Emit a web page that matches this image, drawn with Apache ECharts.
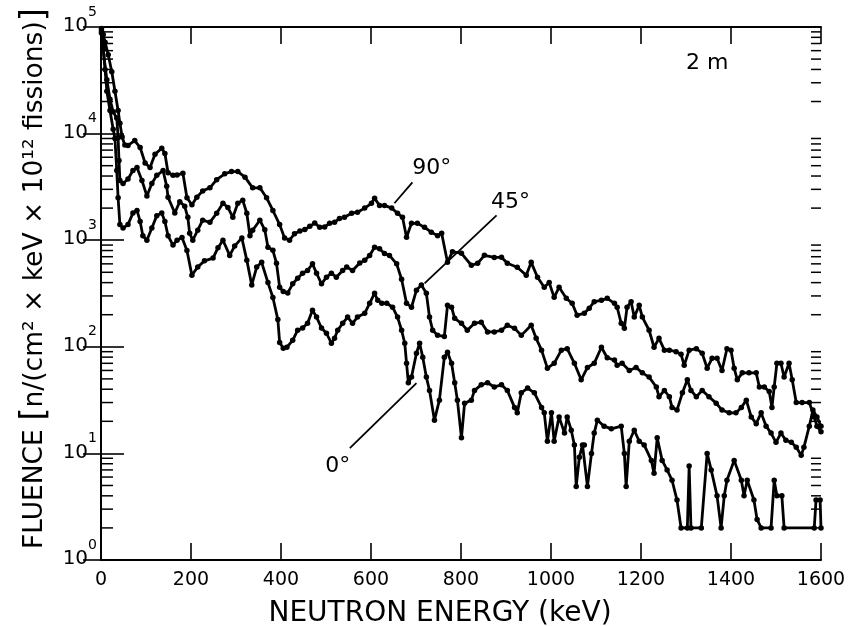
<!DOCTYPE html>
<html>
<head>
<meta charset="utf-8">
<script src="https://cdn.jsdelivr.net/npm/echarts@6.0.0/dist/echarts.min.js"></script>
<style>
html, body { margin: 0; padding: 0; background: #fff; }
#chart { width: 850px; height: 626px; }
</style>
</head>
<body>
<div id="chart"></div>
<script>
// neutron energy (keV) and fluence, one pair of arrays per angle
const e90 = [1, 5, 9, 16, 24, 31, 38, 42, 47, 53, 60, 75, 87, 98, 109, 120, 135, 142, 149, 160, 169, 182, 191, 202, 213, 226, 242, 257, 275, 290, 304, 320, 337, 353, 368, 382, 397, 408, 419, 430, 442, 453, 464, 475, 486, 497, 508, 519, 530, 541, 557, 570, 586, 601, 608, 619, 630, 646, 659, 670, 679, 690, 703, 719, 734, 748, 757, 770, 781, 801, 823, 837, 852, 874, 890, 903, 925, 945, 956, 970, 985, 996, 1007, 1018, 1034, 1047, 1058, 1074, 1085, 1096, 1112, 1125, 1141, 1147, 1156, 1163, 1169, 1178, 1185, 1196, 1203, 1218, 1229, 1240, 1252, 1263, 1278, 1289, 1296, 1307, 1323, 1336, 1347, 1358, 1369, 1380, 1391, 1400, 1407, 1414, 1425, 1440, 1456, 1463, 1474, 1485, 1491, 1496, 1502, 1511, 1518, 1529, 1536, 1545, 1558, 1574, 1585, 1591, 1600];
const f90 = [97000, 85000, 72000, 55000, 38000, 25000, 16500, 12500, 9300, 7800, 7750, 8600, 7400, 5300, 4800, 6400, 7300, 6500, 4300, 4060, 4100, 4240, 2500, 2150, 2530, 2900, 3100, 3700, 4200, 4400, 4400, 3900, 3100, 3100, 2500, 1900, 1400, 1050, 1000, 1150, 1220, 1260, 1350, 1450, 1320, 1330, 1440, 1470, 1600, 1640, 1790, 1830, 2000, 2220, 2470, 2120, 2120, 2000, 1790, 1640, 1065, 1440, 1440, 1320, 1190, 1100, 1160, 620, 780, 754, 582, 607, 722, 690, 691, 607, 557, 469, 620, 449, 362, 400, 291, 362, 285, 256, 198, 206, 230, 265, 273, 285, 256, 235, 166, 149, 235, 265, 190, 245, 190, 143, 99, 120, 93, 93, 90, 85, 67, 93, 96, 87, 63, 78, 78, 60, 96, 93, 63, 49, 57, 57, 57, 42, 42, 38, 27, 42, 70, 70, 52, 70, 49, 30, 30, 30, 22, 18, 16];

const e45 = [1, 4, 13, 20, 27, 35, 38, 40, 42, 49, 60, 71, 80, 91, 102, 113, 124, 138, 146, 149, 164, 175, 186, 193, 197, 204, 215, 226, 242, 257, 271, 282, 293, 304, 315, 324, 331, 337, 353, 364, 371, 382, 390, 397, 405, 415, 426, 437, 448, 459, 470, 479, 490, 501, 512, 523, 537, 546, 559, 575, 586, 597, 608, 619, 630, 641, 657, 668, 679, 690, 701, 712, 723, 730, 737, 748, 763, 770, 779, 786, 801, 814, 830, 845, 859, 874, 890, 903, 919, 934, 956, 967, 979, 992, 1007, 1023, 1036, 1052, 1067, 1081, 1096, 1112, 1125, 1141, 1147, 1158, 1174, 1189, 1203, 1218, 1234, 1240, 1252, 1263, 1269, 1280, 1292, 1303, 1311, 1323, 1336, 1351, 1367, 1380, 1396, 1411, 1423, 1434, 1445, 1456, 1467, 1478, 1489, 1500, 1511, 1522, 1534, 1545, 1556, 1562, 1574, 1582, 1591, 1600];
const f45 = [92000, 65000, 32000, 21000, 16000, 14000, 9200, 5600, 3640, 3400, 3750, 4500, 4800, 3640, 2600, 3400, 4060, 4500, 3200, 2530, 1800, 2300, 2080, 1640, 1160, 1000, 1240, 1540, 1470, 1790, 2220, 2030, 1640, 2220, 2370, 1790, 1100, 1240, 1540, 1250, 858, 804, 607, 362, 330, 320, 390, 440, 490, 520, 600, 490, 390, 450, 490, 450, 520, 560, 520, 610, 650, 720, 860, 830, 750, 720, 600, 430, 256, 235, 340, 380, 318, 190, 143, 128, 125, 245, 235, 185, 166, 143, 166, 170, 138, 138, 143, 159, 149, 128, 159, 120, 93, 63, 70, 93, 96, 70, 49, 64, 70, 99, 79, 75, 67, 70, 60, 64, 57, 52, 42, 34, 39, 34, 27, 25.5, 37, 49, 39, 34, 39, 34, 29.6, 25.5, 24, 24, 27, 31.6, 22, 19, 24, 18, 15.5, 12.7, 15.5, 13.3, 12.7, 11.4, 9.6, 11.4, 18, 25.5, 22, 18];

const e0 = [1, 5, 9, 13, 20, 27, 31, 35, 38, 42, 49, 60, 71, 80, 87, 93, 102, 113, 124, 135, 142, 149, 160, 169, 180, 191, 202, 215, 230, 249, 260, 271, 286, 297, 313, 324, 335, 346, 357, 371, 382, 393, 397, 405, 413, 426, 437, 448, 459, 470, 479, 490, 501, 512, 519, 526, 537, 548, 559, 570, 586, 597, 608, 615, 624, 635, 648, 659, 668, 675, 679, 683, 690, 701, 708, 715, 723, 730, 741, 752, 763, 770, 779, 786, 792, 801, 808, 823, 830, 845, 859, 874, 890, 903, 919, 925, 934, 948, 963, 979, 985, 992, 1001, 1007, 1018, 1030, 1036, 1045, 1052, 1056, 1063, 1070, 1074, 1081, 1090, 1096, 1103, 1118, 1134, 1156, 1163, 1167, 1174, 1185, 1196, 1207, 1223, 1229, 1236, 1247, 1258, 1269, 1280, 1289, 1303, 1307, 1311, 1334, 1347, 1356, 1369, 1378, 1385, 1391, 1407, 1423, 1429, 1436, 1451, 1458, 1467, 1489, 1496, 1502, 1513, 1518, 1585, 1589, 1598, 1600];
const f0 = [88000, 62000, 40000, 25000, 16500, 11000, 9000, 4500, 2500, 1400, 1300, 1400, 1800, 1900, 1500, 1100, 1000, 1300, 1700, 1800, 1500, 1100, 900, 1000, 1060, 800, 470, 560, 640, 680, 850, 1000, 720, 880, 1050, 650, 380, 560, 620, 400, 290, 180, 110, 97, 99, 115, 143, 150, 166, 220, 190, 150, 134, 108, 120, 143, 166, 190, 166, 190, 206, 256, 318, 273, 256, 256, 235, 190, 143, 108, 70, 46, 52, 87, 108, 80, 52, 39, 20.5, 31.6, 80, 89, 70, 46, 31.6, 14, 29.6, 31.6, 39, 44, 46, 42, 44, 39, 27, 24, 37, 41, 37, 27, 24, 13, 24, 13, 22, 15.5, 22, 16.5, 12, 4.9, 9.2, 12, 12, 4.9, 10, 15.5, 20.5, 18, 17, 18, 10, 4.9, 13, 16.5, 13, 12, 8.6, 6.5, 14, 8.6, 7, 5.6, 3.65, 2, 2, 7.6, 2, 2, 10, 7, 4, 2, 4, 5.6, 8.6, 5.6, 4, 5.6, 3.65, 2.4, 2, 2, 5.6, 4, 4, 2, 2, 3.65, 3.65, 2];

// leader lines from the angle labels to their curves
const leader90 = [[692, 3490], [652, 2220]];
const leader45 = [[879, 1710], [719, 394]];
const leader0 = [[553, 11.2], [701, 45.6]];

const labelTexts = ['90°', '45°', '0°', '2 m'];
const labelAt = [[735, 4720], [910, 2265], [526, 7.6], [1347, 45500]];

const xTicks = [0, 200, 400, 600, 800, 1000, 1200, 1400, 1600];
const decades = [1, 10, 100, 1000, 10000];
const minorTicks = [];
decades.forEach(d => { for (let k = 2; k <= 9; k++) minorTicks.push(d * k); });

const zip = (xs, ys) => xs.map((x, i) => [x, ys[i]]);
const font = 'DejaVu Sans, Liberation Sans, sans-serif';

const chart = echarts.init(document.getElementById('chart'));

const curve = (name, data) => ({
    name: name,
    type: 'line',
    data: data,
    symbol: 'circle',
    symbolSize: 5.5,
    showSymbol: true,
    itemStyle: { color: '#000' },
    lineStyle: { color: '#000', width: 2.8 },
    clip: true,
    z: 3
});

const leader = data => ({
    type: 'line',
    data: data,
    symbol: 'none',
    lineStyle: { color: '#000', width: 1.8 },
    silent: true,
    z: 4
});

const option = {
    animation: false,
    backgroundColor: '#fff',
    grid: { left: 101, right: 29, top: 27, bottom: 66, containLabel: false, outerBoundsMode: 'none' },
    xAxis: [
        {
            type: 'value',
            min: 0,
            max: 1600,
            interval: 200,
            position: 'bottom',
            axisLine: { lineStyle: { color: '#000', width: 2 } },
            axisTick: { inside: true, length: 17, lineStyle: { color: '#000', width: 1.6 } },
            axisLabel: {
                color: '#000', fontSize: 19, fontFamily: font, margin: 11,
                formatter: v => (xTicks.includes(v) ? String(v) : '')
            },
            splitLine: { show: false },
            name: 'NEUTRON ENERGY (keV)',
            nameLocation: 'middle',
            nameGap: 40,
            nameTextStyle: { color: '#000', fontSize: 28, fontFamily: font, padding: [0, 42, 0, 0] }
        },
        {
            type: 'value',
            min: 0,
            max: 1600,
            interval: 200,
            position: 'top',
            axisLine: { lineStyle: { color: '#000', width: 2 } },
            axisTick: { inside: true, length: 17, lineStyle: { color: '#000', width: 1.6 } },
            axisLabel: { show: false },
            splitLine: { show: false }
        }
    ],
    yAxis: [
        {
            type: 'log',
            logBase: 10,
            min: 1,
            max: 100000,
            position: 'left',
            axisLine: { lineStyle: { color: '#000', width: 2 } },
            axisTick: { inside: true, length: 23, lineStyle: { color: '#000', width: 1.6 } },
            axisLabel: {
                margin: 4,
                padding: [0, 0, 13, 0],
                formatter: v => '{b|10}{s|' + Math.round(Math.log10(v)) + '}',
                rich: {
                    b: { color: '#000', fontSize: 20, fontFamily: font, lineHeight: 31, verticalAlign: 'bottom' },
                    s: { color: '#000', fontSize: 14, fontFamily: font, lineHeight: 31, verticalAlign: 'top' }
                }
            },
            splitLine: { show: false },
            name: 'FLUENCE {br|[}n/(cm² × keV × 10¹² fissions){br|]}',
            nameLocation: 'middle',
            nameRotate: 90,
            nameGap: 48,
            nameTextStyle: {
                color: '#000', fontSize: 26.5, fontFamily: font,
                padding: [0, 0, 0, 30],
                rich: { br: { color: '#000', fontSize: 34, fontFamily: font } }
            }
        },
        {
            type: 'log',
            logBase: 10,
            min: 1,
            max: 100000,
            position: 'right',
            axisLine: { lineStyle: { color: '#000', width: 2 } },
            axisTick: { inside: true, length: 18, lineStyle: { color: '#000', width: 1.6 } },
            axisLabel: { show: false },
            splitLine: { show: false }
        }
    ],
    series: [
        curve('90°', zip(e90, f90)),
        curve('45°', zip(e45, f45)),
        curve('0°', zip(e0, f0)),
        leader(leader90),
        leader(leader45),
        leader(leader0),
        {
            // minor log ticks on both vertical axes
            type: 'custom',
            silent: true,
            clip: false,
            data: minorTicks.map(v => [0, v]),
            renderItem: (params, api) => {
                const v = api.value(1);
                const l = api.coord([0, v]);
                const r = api.coord([1600, v]);
                return {
                    type: 'group',
                    children: [
                        { type: 'line', shape: { x1: l[0], y1: l[1], x2: l[0] + 12, y2: l[1] }, style: { stroke: '#000', lineWidth: 1.5 } },
                        { type: 'line', shape: { x1: r[0], y1: r[1], x2: r[0] - 10, y2: r[1] }, style: { stroke: '#000', lineWidth: 1.5 } }
                    ]
                };
            }
        }
    ]
};

chart.setOption(option);

// angle labels and distance, placed in data coordinates
chart.setOption({
    graphic: labelTexts.map((t, i) => {
        const p = chart.convertToPixel({ xAxisIndex: 0, yAxisIndex: 0 }, labelAt[i]);
        return {
            type: 'text',
            x: p[0],
            y: p[1],
            style: {
                text: t,
                fill: '#000',
                font: '22px ' + font,
                align: 'center',
                verticalAlign: 'middle'
            }
        };
    })
});

window.addEventListener('resize', () => {
    chart.resize();
});
</script>
</body>
</html>
